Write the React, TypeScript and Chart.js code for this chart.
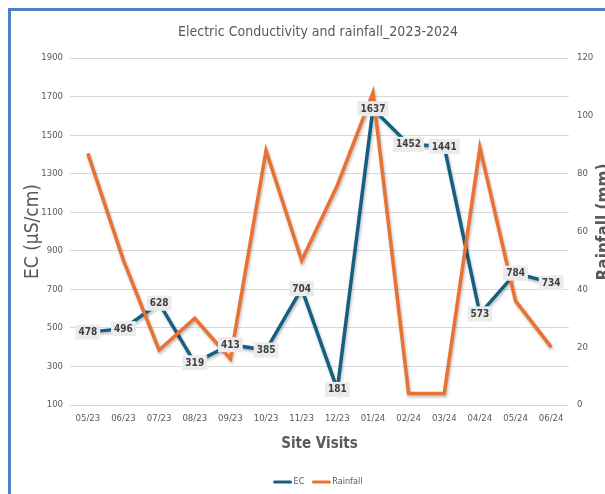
import { useEffect, useRef } from 'react';
import { Chart, registerables } from 'chart.js';

Chart.register(...registerables);

// site visit months
const siteVisits = ['05/23', '06/23', '07/23', '08/23', '09/23', '10/23', '11/23', '12/23', '01/24', '02/24', '03/24', '04/24', '05/24', '06/24'];
// EC in µS/cm (left axis)
const ecValues = [478, 496, 628, 319, 413, 385, 704, 181, 1637, 1452, 1441, 573, 784, 734];
// rainfall in mm (right axis)
const rainfallValues = [87, 50, 19, 30, 16, 88, 50, 76, 108, 4, 4, 89, 36, 20];

const ecRange = [100, 1900, 200];
const rainRange = [0, 120, 20];

const FONT = "'Liberation Sans Narrow', 'DejaVu Sans Condensed', 'Arial Narrow', sans-serif";
const GREY = '#595959';
const EC_COLOR = '#156082';
const RAIN_COLOR = '#E97132';

export default function App() {
  const chartRef = useRef<HTMLCanvasElement>(null);
  const chartInstance = useRef<Chart | null>(null);

  useEffect(() => {
    if (!chartRef.current) return;
    if (chartInstance.current) chartInstance.current.destroy();
    const ctx = chartRef.current.getContext('2d');
    if (!ctx) return;

    // soft shadow under each line
    const lineShadow = {
      id: 'lineShadow',
      beforeDatasetDraw(chart: Chart) {
        const c = chart.ctx;
        c.save();
        c.shadowColor = 'rgba(0,0,0,0.28)';
        c.shadowBlur = 3;
        c.shadowOffsetX = 1;
        c.shadowOffsetY = 2;
      },
      afterDatasetDraw(chart: Chart) {
        chart.ctx.restore();
      },
    };

    // title, right axis title, EC value boxes and legend
    const extras = {
      id: 'extras',
      afterDatasetsDraw(chart: Chart) {
        const c = chart.ctx;
        const meta = chart.getDatasetMeta(0);
        c.save();
        c.font = `bold 10px ${FONT}`;
        c.textAlign = 'center';
        c.textBaseline = 'middle';
        meta.data.forEach((pt, i) => {
          const txt = String(chart.data.datasets[0].data[i]);
          const w = c.measureText(txt).width + 6;
          const h = 15;
          c.fillStyle = '#ebebeb';
          c.fillRect(pt.x - w / 2, pt.y - h / 2, w, h);
          c.fillStyle = '#404040';
          c.fillText(txt, pt.x, pt.y + 0.5);
        });
        c.restore();
      },
      afterDraw(chart: Chart) {
        const c = chart.ctx;
        c.save();
        c.fillStyle = GREY;
        c.textAlign = 'center';
        c.textBaseline = 'middle';
        c.font = `14px ${FONT}`;
        c.fillText('Electric Conductivity and rainfall_2023-2024', 307, 21);

        c.save();
        c.translate(594, 211);
        c.rotate(-Math.PI / 2);
        c.font = `bold 17px ${FONT}`;
        c.fillText('Rainfall (mm)', 0, 0);
        c.restore();

        // legend
        c.font = `9px ${FONT}`;
        c.textAlign = 'left';
        const items = chart.data.datasets.map((d) => ({ label: d.label as string, color: d.borderColor as string }));
        const sw = 18;
        const widths = items.map((it) => sw + 2 + c.measureText(it.label).width);
        const total = widths.reduce((a, b) => a + b, 0) + 8 * (items.length - 1);
        let x = 307 - total / 2;
        const y = 471;
        items.forEach((it, i) => {
          c.strokeStyle = it.color;
          c.lineWidth = 3;
          c.lineCap = 'round';
          c.beginPath();
          c.moveTo(x + 1, y);
          c.lineTo(x + sw - 1, y);
          c.stroke();
          c.fillStyle = GREY;
          c.fillText(it.label, x + sw + 2, y);
          x += widths[i] + 8;
        });
        c.restore();
      },
    };

    const plainTick = (v: any) => String(v);

    chartInstance.current = new Chart(ctx, {
      type: 'line',
      data: {
        labels: siteVisits,
        datasets: [
          {
            label: 'EC',
            data: ecValues,
            borderColor: EC_COLOR,
            backgroundColor: EC_COLOR,
            borderWidth: 3.5,
            pointRadius: 0,
            yAxisID: 'y',
            order: 2,
          },
          {
            label: 'Rainfall',
            data: rainfallValues,
            borderColor: RAIN_COLOR,
            backgroundColor: RAIN_COLOR,
            borderWidth: 3.5,
            pointRadius: 0,
            yAxisID: 'y1',
            order: 1,
          },
        ],
      },
      options: {
        responsive: false,
        animation: false,
        layout: { padding: { top: 47, bottom: 29, left: 0, right: 0 } },
        plugins: {
          legend: { display: false },
          title: { display: false },
          tooltip: { enabled: false },
        },
        scales: {
          x: {
            offset: true,
            grid: { display: false, drawTicks: false },
            border: { display: false },
            ticks: { color: GREY, font: { size: 9.5, family: FONT }, padding: 8, maxRotation: 0 },
            title: {
              display: true,
              text: 'Site Visits',
              color: GREY,
              font: { size: 15, weight: 'bold', family: FONT },
              padding: { top: 0, bottom: 12 },
            },
            afterFit: (s: any) => {
              s.height = 60;
            },
          },
          y: {
            position: 'left',
            min: ecRange[0],
            max: ecRange[1],
            ticks: { stepSize: ecRange[2], callback: plainTick, color: GREY, font: { size: 9.5, family: FONT }, padding: 7 },
            grid: { color: '#d9d9d9', lineWidth: 1, drawTicks: false },
            border: { display: false },
            title: {
              display: true,
              text: 'EC (µS/cm)',
              color: GREY,
              font: { size: 19, family: FONT },
              padding: { top: 11, bottom: 0 },
            },
            afterFit: (s: any) => {
              s.width = 59;
            },
          },
          y1: {
            position: 'right',
            min: rainRange[0],
            max: rainRange[1],
            ticks: { stepSize: rainRange[2], callback: plainTick, color: GREY, font: { size: 9.5, family: FONT }, padding: 8 },
            grid: { display: false, drawTicks: false },
            border: { display: false },
            afterFit: (s: any) => {
              s.width = 62;
            },
          },
        },
      },
      plugins: [lineShadow, extras],
    });

    return () => {
      if (chartInstance.current) {
        chartInstance.current.destroy();
        chartInstance.current = null;
      }
    };
  }, []);

  return (
    <div
      style={{
        position: 'fixed',
        left: 8,
        top: 8,
        width: 620,
        height: 486,
        overflow: 'hidden',
        background: '#fff',
        borderLeft: '3px solid #4f81c4',
        borderTop: '3px solid #4f81c4',
      }}
    >
      <canvas ref={chartRef} width={620} height={483} style={{ width: 620, height: 483, display: 'block' }} />
    </div>
  );
}
